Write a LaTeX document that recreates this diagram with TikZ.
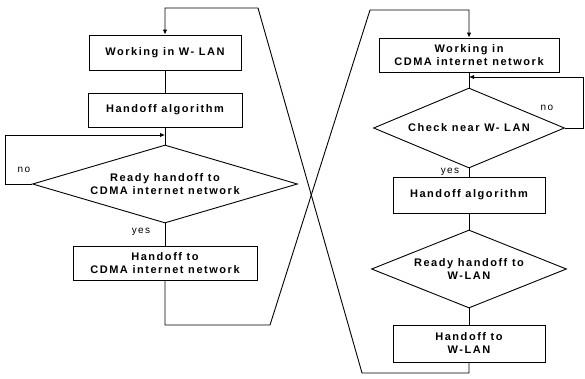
\documentclass[tikz,border=0pt]{standalone}
\usepackage{fontspec}
\usepackage{tikz}
\usetikzlibrary{shapes.geometric, arrows.meta, positioning}
\newfontfamily\chartFont{Liberation Sans}[LetterSpace=14]

\begin{document}
\begin{tikzpicture}[x=1pt, y=-1pt,
        every node/.style={font=\chartFont\bfseries\fontsize{11}{13}\selectfont},
        box/.style={draw, rectangle, line width=0.9pt, align=center, inner sep=1pt},
        decision/.style={draw, diamond, line width=0.9pt, align=center, inner sep=0pt},
        flow/.style={line width=0.9pt},
        arr/.style={line width=0.9pt, -{Latex[length=5pt, width=4.5pt]}},
        tag/.style={font=\chartFont\fontsize{10}{12}\selectfont}]
    \useasboundingbox (0,0) rectangle (585,378);

    % W-LAN side
    \node[box, minimum width=152, minimum height=35] (wlanWork) at (165,52.5) {Working in W- LAN};
    \node[box, minimum width=154, minimum height=34] (wlanAlgo) at (165,110) {Handoff algorithm};
    \node[decision, aspect=3.4, minimum width=265, minimum height=78] (wlanReady) at (165,184)
        {Ready handoff to\\CDMA internet network};
    \node[box, minimum width=184, minimum height=34] (toCdma) at (165,263)
        {Handoff to\\CDMA internet network};

    % CDMA side
    \node[box, minimum width=180, minimum height=34] (cdmaWork) at (469,55)
        {Working in\\CDMA internet network};
    \node[decision, aspect=2.4, minimum width=191, minimum height=80] (cdmaCheck) at (469,128) {Check near W- LAN};
    \node[box, minimum width=152, minimum height=36] (cdmaAlgo) at (469,195) {Handoff algorithm};
    \node[decision, aspect=2.5, minimum width=195, minimum height=78] (cdmaReady) at (469,269)
        {Ready handoff to\\W-LAN};
    \node[box, minimum width=152, minimum height=37] (toWlan) at (469,343.5) {Handoff to\\W-LAN};

    % labels
    \node[tag] (wlanNo) at (24,170) {no};
    \node[tag] (wlanYes) at (141,232) {yes};
    \node[tag] (cdmaNo) at (547,108) {no};
    \node[tag] (cdmaYes) at (450,172) {yes};

    % merge points
    \coordinate (wlanMerge) at (165,135);
    \coordinate (cdmaMerge) at (469,77);

    % vertical flow
    \foreach \a/\b in {wlanWork/wlanAlgo, wlanAlgo/wlanReady, wlanReady/toCdma,
                       cdmaWork/cdmaCheck, cdmaCheck/cdmaAlgo, cdmaAlgo/cdmaReady, cdmaReady/toWlan}
        \draw[flow] (\a) -- (\b);

    % no loops
    \draw[arr] (wlanReady.west) -- (5,184) |- (wlanMerge);
    \draw[arr] (cdmaCheck.east) -- (583,128) |- (cdmaMerge);

    % crossing returns
    \draw[arr] (toCdma.south) -- (165,325) -- (270,325) -- (370,10) -| (cdmaWork.north);
    \draw[arr] (toWlan.south) -- (469,373) -- (362,373) -- (258,8) -| (wlanWork.north);
\end{tikzpicture}
\end{document}
